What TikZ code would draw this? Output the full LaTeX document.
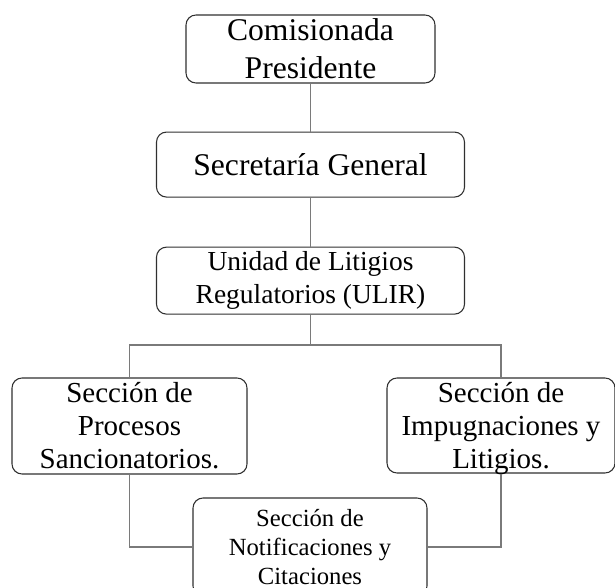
\documentclass[tikz,border=0pt]{standalone}
\usepackage{fontspec}
\setmainfont{Liberation Serif}
\usetikzlibrary{positioning}
\definecolor{linegray}{HTML}{7A7A7A}
\definecolor{boxline}{HTML}{303030}
\tikzset{
  % org chart boxes
  orgbox/.style={
    rectangle, rounded corners=7.5pt, draw=boxline, fill=white,
    line width=0.8pt, inner sep=0pt, align=center,
  },
  % connectors
  orgline/.style={draw=linegray, line width=0.8pt},
}

\begin{document}
\begin{tikzpicture}[x=0.75pt, y=-0.75pt, node distance=36pt]
  \useasboundingbox (0,0) rectangle (615,588);

  % Upper chain
  \node[orgbox, minimum width=186.75pt, minimum height=51pt,
        font=\fontsize{23.7}{28.5}\selectfont] (pres) at (310.5,49)
        {Comisionada\\Presidente};
  \node[orgbox, below=36pt of pres, minimum width=231pt, minimum height=48.75pt,
        font=\fontsize{23.7}{28.5}\selectfont] (secgen) {Secretaría General};
  \node[orgbox, below=36.75pt of secgen, minimum width=231pt, minimum height=50.25pt,
        font=\fontsize{20.6}{24.75}\selectfont] (ulir)
        {Unidad de Litigios\\Regulatorios (ULIR)};

  % Sections
  \node[orgbox, minimum width=176.25pt, minimum height=72pt,
        font=\fontsize{21.75}{24.75}\selectfont] (procesos) at (129.5,426)
        {Sección de\\Procesos\\Sancionatorios.};
  \node[orgbox, minimum width=171pt, minimum height=71.25pt, text depth=0pt,
        font=\fontsize{21.75}{24.75}\selectfont] (impug) at (501,425.5)
        {Sección de\\Impugnaciones y\\Litigios.};
  \node[orgbox, minimum width=175.5pt, minimum height=73.5pt,
        font=\fontsize{18.5}{21.75}\selectfont] (notif) at (310,547)
        {Sección de\\Notificaciones y\\Citaciones};

  % Connectors
  \coordinate (bus) at (ulir.south |- 0,345);
  \draw[orgline] (pres) -- (secgen);
  \draw[orgline] (secgen) -- (ulir);
  \draw[orgline] (ulir.south) -- (bus);
  \draw[orgline] (bus) -| (procesos.north);
  \draw[orgline] (bus) -| (impug.north);
  \draw[orgline] (procesos.south) |- (notif.west);
  \draw[orgline] (impug.south) |- (notif.east);

\end{tikzpicture}
\end{document}
